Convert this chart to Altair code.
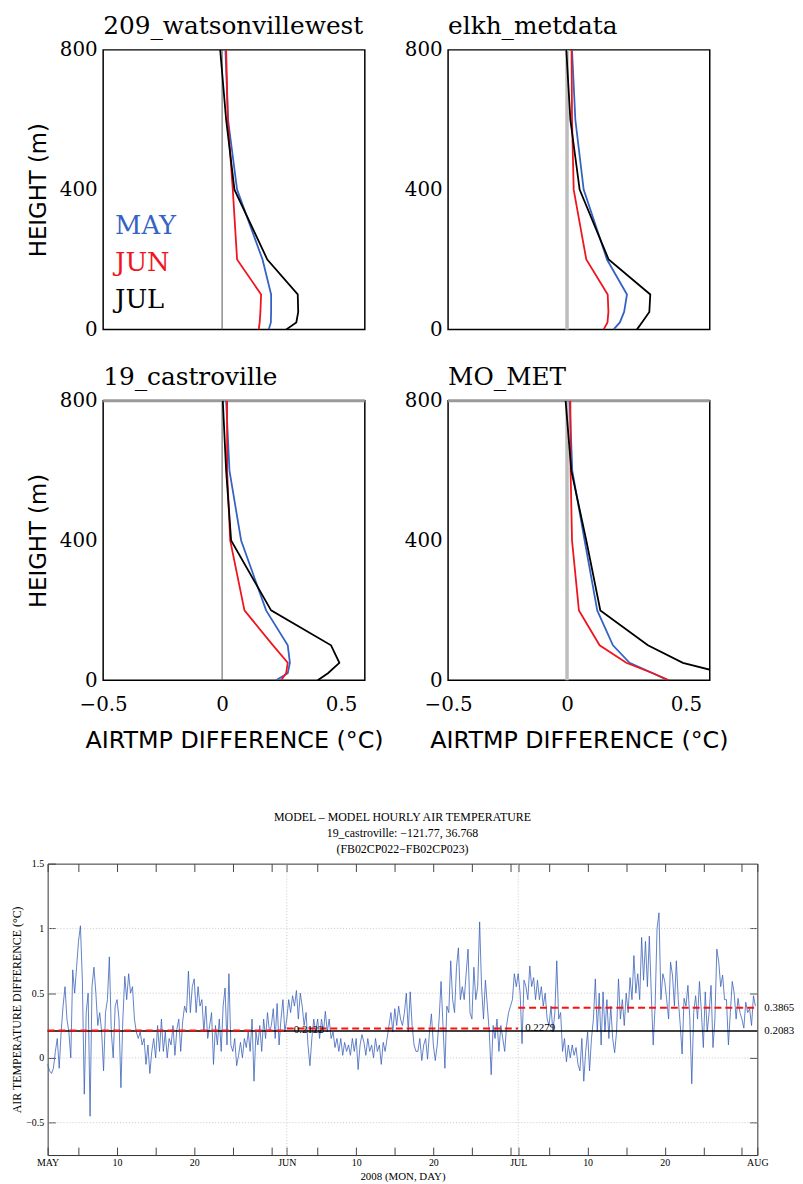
import altair as alt
import pandas as pd

# ---------------- profile panels ----------------
HEIGHTS = [0, 20, 50, 100, 200, 400, 600, 800]
MONTHS = ["MAY", "JUN", "JUL"]
MONTH_COLORS = ["#3563c4", "#f0141e", "#000000"]
STATIONS = ["209_watsonvillewest", "elkh_metdata", "19_castroville", "MO_MET"]

WATSONVILLE_MAY = [0.196, 0.205, 0.206, 0.206, 0.170, 0.063, 0.025, 0.014]
WATSONVILLE_JUN = [0.154, 0.158, 0.161, 0.164, 0.063, 0.045, 0.024, 0.017]
WATSONVILLE_JUL = [0.270, 0.312, 0.320, 0.318, 0.190, 0.052, 0.017, -0.008]
ELKH_MAY = [0.196, 0.222, 0.240, 0.252, 0.168, 0.070, 0.035, 0.021]
ELKH_JUN = [0.154, 0.170, 0.174, 0.171, 0.081, 0.028, 0.021, 0.019]
ELKH_JUL = [0.294, 0.315, 0.346, 0.350, 0.175, 0.053, 0.014, -0.003]
CASTROVILLE_MAY = [0.227, 0.276, 0.285, 0.276, 0.185, 0.080, 0.031, 0.017]
CASTROVILLE_JUN = [0.248, 0.269, 0.276, 0.214, 0.094, 0.034, 0.021, 0.021]
CASTROVILLE_JUL = [0.402, 0.445, 0.493, 0.458, 0.206, 0.038, 0.017, 0.003]
MOMET_MAY = [0.424, 0.361, 0.263, 0.193, 0.127, 0.074, 0.022, 0.011]
MOMET_JUN = [0.429, 0.361, 0.249, 0.137, 0.050, 0.021, 0.015, 0.014]
MOMET_JUL = [0.780, 0.660, 0.487, 0.340, 0.140, 0.081, 0.018, -0.006]

PROFILE_X_TICKS = [-0.5, 0, 0.5]
PROFILE_Y_TICKS = [0, 400, 800]

# ---------------- hourly series (sampled every 6 h) ----------------
MAY_DIFF = [
    -0.05, -0.10, -0.12, -0.08, 0.05, 0.15, -0.08, 0.20, 0.40, 0.55, 0.30, 0.20,
    0.00, 0.68, 0.50, 0.70, 0.90, 1.02, 0.60, -0.28, 0.35, 0.50, -0.45, 0.55,
    0.70, 0.50, 0.25, 0.35, 0.20, -0.10, 0.35, 0.45, 0.78, 0.20, 0.00, 0.40,
    0.45, 0.30, -0.23, 0.30, 0.63, 0.45, 0.65, 0.50, 0.55, 0.30, 0.20, 0.15,
    0.20, 0.10, 0.15, -0.05, 0.10, -0.12, 0.05, 0.15, 0.00, 0.25, 0.05, 0.30,
    0.05, 0.20, 0.00, 0.15, 0.10, 0.25, 0.02, 0.22, 0.30, 0.05, 0.28, 0.40,
    0.35, 0.67, 0.35, 0.55, 0.61, 0.35, 0.55, 0.40, 0.45, 0.20, 0.40, 0.15,
    0.25, 0.35, -0.05, 0.25, 0.10, 0.30, 0.05, 0.40, 0.54, 0.10, 0.65, 0.10,
    0.05, 0.15, -0.06, 0.02, 0.12, 0.00, 0.15, 0.08, 0.20, 0.05, 0.30, -0.18,
    0.20, 0.10, 0.25, 0.05, 0.30, 0.15, 0.35, 0.20, 0.25, 0.38, 0.15, 0.42,
    0.10, 0.30, 0.45, 0.20,
]
JUN_DIFF = [
    0.30, 0.45, 0.35, 0.48, 0.40, 0.52, 0.30, 0.50, 0.40, 0.25, 0.35, 0.10,
    -0.06, 0.15, 0.30, 0.20, 0.30, 0.15, 0.30, 0.20, 0.36, 0.20, 0.30, 0.15,
    0.20, 0.08, 0.15, 0.05, 0.15, 0.02, 0.12, 0.05, 0.10, 0.02, 0.15, 0.05,
    0.15, -0.09, 0.10, 0.18, 0.12, 0.02, 0.15, 0.05, 0.10, 0.00, 0.15, 0.05,
    0.10, -0.05, 0.12, 0.05, 0.15, 0.25, 0.35, 0.20, 0.38, 0.25, 0.40, 0.30,
    0.25, 0.35, 0.50, 0.20, 0.51, 0.25, 0.10, 0.05, 0.05, 0.15, -0.02, 0.10,
    0.15, -0.01, 0.20, 0.34, 0.10, -0.02, 0.10, 0.30, 0.59, 0.25, -0.08, 0.40,
    0.35, 0.75, 0.45, 0.35, 0.70, 0.85, 0.45, 0.55, 0.45, 0.65, 0.84, 0.35,
    0.30, 0.70, 0.45, 0.55, 1.05, 0.55, 0.30, 0.60, 0.40, 0.20, -0.13, 0.25,
    0.15, 0.30, 0.05, 0.25, 0.15, 0.05, 0.25, 0.35, 0.40, 0.45, 0.65, 0.55,
]
JUL_DIFF = [
    0.65, 0.50, 0.11, 0.60, 0.55, 0.45, 0.71, 0.55, 0.62, 0.45, 0.60, 0.45,
    0.55, 0.40, 0.50, 0.30, 0.25, 0.40, 0.20, 0.35, 0.75, 0.30, 0.35, 0.05,
    0.15, -0.03, 0.10, 0.00, 0.10, 0.02, 0.08, -0.05, -0.10, 0.15, -0.18, 0.05,
    0.20, -0.10, 0.15, 0.30, 0.61, 0.20, 0.50, 0.10, 0.51, 0.20, 0.45, 0.15,
    0.40, 0.15, 0.04, 0.20, 0.61, 0.30, 0.45, 0.25, 0.50, 0.35, 0.62, 0.45,
    0.79, 0.50, 0.65, 0.45, 0.93, 0.60, 0.90, 0.55, 0.94, 0.50, 0.10, 0.40,
    1.00, 1.12, 0.45, 0.65, 0.59, 0.45, 0.30, 0.74, 0.64, 0.40, 0.75, 0.45,
    0.26, 0.03, 0.46, 0.40, 0.56, 0.30, -0.20, 0.35, 0.48, 0.30, 0.59, 0.35,
    0.08, 0.51, 0.20, 0.35, 0.56, 0.08, 0.30, 0.84, 0.74, 0.55, 0.64, 0.45,
    0.45, 0.10, 0.35, 0.59, 0.50, 0.30, 0.46, 0.35, 0.30, 0.23, 0.43, 0.35,
    0.38, 0.25, 0.48, 0.40,
]
SAMPLES_PER_DAY = 4

MONTH_START_DAY = [0, 31, 61]
MONTH_END_DAY = [31, 61, 92]
MONTH_MEAN = [0.2122, 0.2279, 0.3865]
OVERALL_MEAN = 0.2083

TICK_DAYS = [0, 4, 9, 14, 19, 24, 29, 31, 35, 40, 45, 50, 55, 60, 61, 65, 70, 75, 80, 85, 90, 92]
LABEL_DAYS = [0, 9, 19, 31, 40, 50, 61, 70, 80, 92]
LABEL_TEXT = ["MAY", "10", "20", "JUN", "10", "20", "JUL", "10", "20", "AUG"]
GRID_DAYS = [31, 61]
TS_Y_TICKS = [-0.5, 0, 0.5, 1, 1.5]
GRID_Y = [-0.5, 0, 0.5, 1]

SERIF = "DejaVu Serif"
SANS = "DejaVu Sans"
TSERIF = "Liberation Serif"


def profile_panel(idx, may, jun, jul):
    row, col = divmod(idx, 2)
    df = pd.DataFrame({
        "height": HEIGHTS * 3,
        "diff": may + jun + jul,
        "month": [m for m in MONTHS for _ in HEIGHTS],
    })
    xscale = alt.Scale(domain=[-0.5, 0.6], nice=False, zero=False)
    yscale = alt.Scale(domain=[0, 800], nice=False)

    if row == 1:
        xaxis = alt.Axis(values=PROFILE_X_TICKS, format="~g", labelFont=SERIF,
                         labelFontSize=20, labelColor="black", labelPadding=15,
                         labelFlush=False, ticks=False, domain=False, grid=False,
                         title="AIRTMP DIFFERENCE (°C)", titleFont=SANS,
                         titleFontSize=24, titleFontWeight="normal",
                         titleColor="black", titlePadding=14)
    else:
        xaxis = None
    ykw = dict(values=PROFILE_Y_TICKS, format="d", labelFont=SERIF, labelFontSize=20,
               labelColor="black", labelPadding=6, ticks=False, domain=False,
               grid=False, labelFlush=False)
    if col == 0:
        ykw.update(title="HEIGHT (m)", titleFont=SANS, titleFontSize=23,
                   titleFontWeight="normal", titleColor="black", titlePadding=9)
    else:
        ykw.update(title=None)
    yaxis = alt.Axis(**ykw)

    if idx == 0:
        color_expr = ("datum.value === 'MAY' ? '%s' : datum.value === 'JUN' ? '%s' : '%s'"
                      % tuple(MONTH_COLORS))
        legend = alt.Legend(orient="none", legendX=-14, legendY=165, title=None,
                            direction="vertical", symbolOpacity=0, symbolSize=1,
                            symbolStrokeWidth=0, labelOffset=0, labelFont=SERIF,
                            labelFontSize=26, labelColor={"expr": color_expr},
                            rowPadding=11, padding=0)
    else:
        legend = None

    lines = alt.Chart(df).mark_line(strokeWidth=1.8, clip=True).encode(
        x=alt.X("diff:Q", scale=xscale, axis=xaxis),
        y=alt.Y("height:Q", scale=yscale, axis=yaxis),
        color=alt.Color("month:N", scale=alt.Scale(domain=MONTHS, range=MONTH_COLORS),
                        legend=legend),
        order=alt.Order("height:Q"),
    )
    if col == 0:
        zero_color, zero_width = "#555555", 1
    else:
        zero_color, zero_width = "#bdbdbd", 3.5
    zero = alt.Chart(pd.DataFrame({"ref": [0.0]})).mark_rule(
        color=zero_color, strokeWidth=zero_width).encode(
        x=alt.X("ref:Q", scale=xscale, axis=None))
    layers = [zero]
    if row == 1:
        top = alt.Chart(pd.DataFrame({"ymax": [800]})).mark_rule(
            color="#9a9a9a", strokeWidth=3).encode(
            y=alt.Y("ymax:Q", scale=yscale, axis=None))
        layers.append(top)
    layers.append(lines)
    return alt.layer(*layers).resolve_axis(x="independent", y="independent").properties(
        width=264, height=282,
        title=alt.TitleParams(STATIONS[idx], anchor="start", font=SERIF, fontSize=25,
                              fontWeight="normal", color="black", offset=1,
                              frame="group"),
        view=alt.ViewBackground(stroke="black", strokeWidth=1.5),
    )


p1 = profile_panel(0, WATSONVILLE_MAY, WATSONVILLE_JUN, WATSONVILLE_JUL)
p2 = profile_panel(1, ELKH_MAY, ELKH_JUN, ELKH_JUL)
p3 = profile_panel(2, CASTROVILLE_MAY, CASTROVILLE_JUN, CASTROVILLE_JUL)
p4 = profile_panel(3, MOMET_MAY, MOMET_JUN, MOMET_JUL)

top_grid = alt.concat(p1, p2, p3, p4, columns=2, bounds="flush",
                      spacing={"row": 72, "column": 84}).resolve_scale(color="independent")

# invisible 1-px spacer that shifts the profile block to the right of the time-series plot
spacer = alt.Chart(pd.DataFrame({"s": [0]})).mark_point(opacity=0, size=1).properties(
    width=1, height=1, view=alt.ViewBackground(strokeOpacity=0))
top_section = alt.hconcat(spacer, top_grid, spacing=55, bounds="flush").resolve_scale(
    color="independent")

# ---------------- time series ----------------
ts_vals = MAY_DIFF + JUN_DIFF + JUL_DIFF
ts_df = pd.DataFrame({"day": [i / SAMPLES_PER_DAY for i in range(len(ts_vals))],
                      "diff": ts_vals})
means_df = pd.DataFrame({"start": MONTH_START_DAY, "end": MONTH_END_DAY, "mean": MONTH_MEAN})
label_df = pd.DataFrame({"end": MONTH_END_DAY + [MONTH_END_DAY[-1]],
                         "mean": MONTH_MEAN + [OVERALL_MEAN]})

xs = alt.Scale(domain=[0, 92], nice=False, zero=False)
ys = alt.Scale(domain=[-0.75, 1.5], nice=False, zero=False)

label_expr = " : ".join("datum.value == %s ? '%s'" % (d, t) for d, t in zip(LABEL_DAYS, LABEL_TEXT)) + " : ''"

grid_h = alt.Chart(pd.DataFrame({"g": GRID_Y})).mark_rule(
    color="#c8c8c8", strokeDash=[1, 2], strokeWidth=1).encode(
    y=alt.Y("g:Q", scale=ys, axis=None))
grid_v = alt.Chart(pd.DataFrame({"d": GRID_DAYS})).mark_rule(
    color="#c8c8c8", strokeDash=[1, 2], strokeWidth=1).encode(
    x=alt.X("d:Q", scale=xs, axis=None))

series = alt.Chart(ts_df).mark_line(color="#3a62b8", strokeWidth=0.8).encode(
    x=alt.X("day:Q", scale=xs, axis=alt.Axis(
        orient="bottom", values=TICK_DAYS, labelExpr=label_expr, offset=-8, tickSize=8,
        tickColor="#444444", domain=False, grid=False, labelFont=TSERIF, labelFontSize=10,
        labelColor="black", labelPadding=3, labelFlush=False, labelOverlap=False,
        title="2008 (MON, DAY)", titleFont=TSERIF, titleFontSize=11,
        titleFontWeight="normal", titleColor="black", titlePadding=3)),
    y=alt.Y("diff:Q", scale=ys, axis=alt.Axis(
        orient="left", values=TS_Y_TICKS, format="~g", offset=-8, tickSize=8,
        tickColor="#444444", domain=False, grid=False, labelFont=TSERIF, labelFontSize=10,
        labelColor="black", labelPadding=4,
        title="AIR TEMPERATURE DIFFERENCE (°C)", titleFont=TSERIF, titleFontSize=12,
        titleFontWeight="normal", titleColor="black", titlePadding=2)),
)
overall = alt.Chart(pd.DataFrame({"m": [OVERALL_MEAN]})).mark_rule(
    color="black", strokeWidth=1.6).encode(y=alt.Y("m:Q", scale=ys, axis=None))
month_means = alt.Chart(means_df).mark_rule(
    color="#ff1010", strokeDash=[7, 4], strokeWidth=2).encode(
    x=alt.X("start:Q", scale=xs, axis=alt.Axis(
        orient="top", values=TICK_DAYS, labels=False, offset=-8, tickSize=8,
        tickColor="#444444", domain=False, grid=False, title=None)),
    x2="end:Q",
    y=alt.Y("mean:Q", scale=ys, axis=alt.Axis(
        orient="right", values=GRID_Y, labels=False, offset=-8, tickSize=8,
        tickColor="#444444", domain=False, grid=False, title=None)),
)
mean_labels = alt.Chart(label_df).mark_text(
    align="left", baseline="middle", dx=7, font=TSERIF, fontSize=11, color="black").encode(
    x=alt.X("end:Q", scale=xs, axis=None),
    y=alt.Y("mean:Q", scale=ys, axis=None),
    text=alt.Text("mean:Q", format=".4f"),
)

bottom = alt.layer(grid_h, grid_v, series, overall, month_means, mean_labels).resolve_axis(
    x="independent", y="independent").properties(
    width=716, height=294,
    title=alt.TitleParams(
        ["MODEL – MODEL HOURLY AIR TEMPERATURE",
         "19_castroville:  −121.77, 36.768",
         "(FB02CP022−FB02CP023)"],
        anchor="middle", font=TSERIF, fontSize=12, fontWeight="normal",
        color="black", lineHeight=16, offset=3),
    view=alt.ViewBackground(stroke="#333333", strokeWidth=1),
)

chart = alt.vconcat(top_section, bottom, spacing=57).resolve_scale(
    color="independent").properties(
    padding={"left": 2, "top": 0, "right": 0, "bottom": 0})

chart.save("out.html", embed_options={"renderer": "svg", "actions": False})
